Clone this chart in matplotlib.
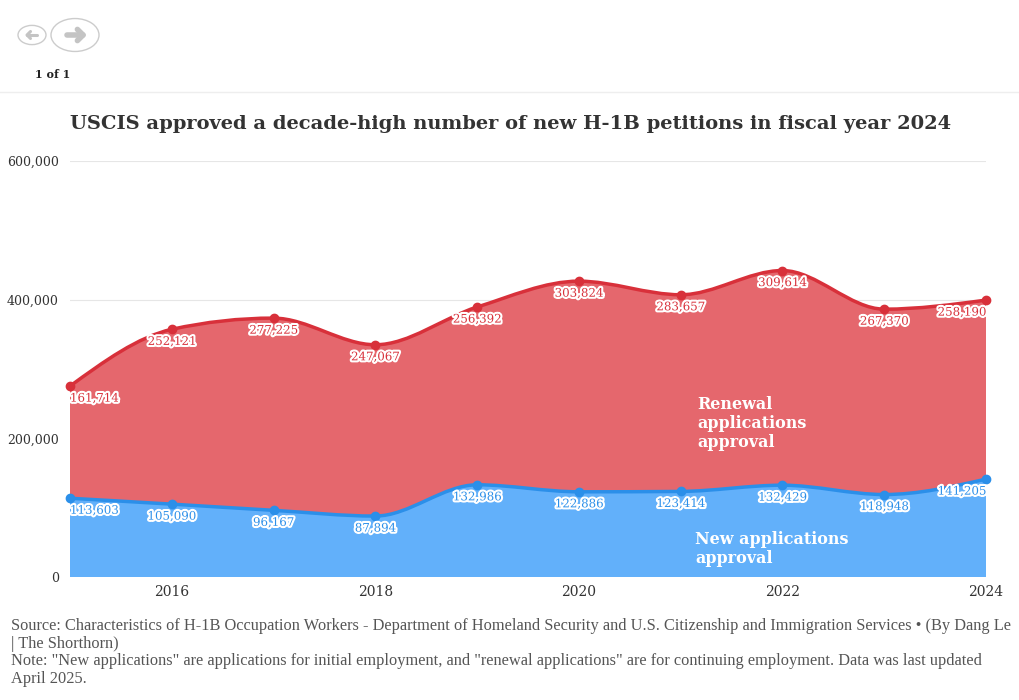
import numpy as np
import matplotlib
matplotlib.use("Agg")
import matplotlib.pyplot as plt
from matplotlib.path import Path
from matplotlib.patches import PathPatch, Circle
import matplotlib.patheffects as pe

years = [2015, 2016, 2017, 2018, 2019, 2020, 2021, 2022, 2023, 2024]
new_apps = [113603, 105090, 96167, 87894, 132986, 122886, 123414, 132429, 118948, 141205]
renewal_apps = [161714, 252121, 277225, 247067, 256392, 303824, 283657, 309614, 267370, 258190]
yticks = [0, 200000, 400000, 600000]
xticks = [2016, 2018, 2020, 2022, 2024]

title = "USCIS approved a decade-high number of new H-1B petitions in fiscal year 2024"
source = ("Source: Characteristics of H-1B Occupation Workers - Department of Homeland Security and U.S. Citizenship and Immigration Services \u2022 (By Dang Le\n"
          "| The Shorthorn)\n"
          "Note: \"New applications\" are applications for initial employment, and \"renewal applications\" are for continuing employment. Data was last updated\n"
          "April 2025.")

RED_FILL = "#e5676d"
RED_LINE = "#d8303a"
BLUE_FILL = "#62b0fa"
BLUE_LINE = "#2b8fe9"
SERIF = ["DejaVu Serif"]


def monotone_slopes(x, y):
    # same idea as d3.curveMonotoneX
    x = np.asarray(x, float)
    y = np.asarray(y, float)
    n = len(x)
    h = np.diff(x)
    s = np.diff(y) / h
    m = np.zeros(n)
    for i in range(1, n - 1):
        p = (s[i - 1] * h[i] + s[i] * h[i - 1]) / (h[i - 1] + h[i])
        m[i] = (np.sign(s[i - 1]) + np.sign(s[i])) * min(abs(s[i - 1]), abs(s[i]), 0.5 * abs(p))
    m[0] = (3 * s[0] - m[1]) / 2
    m[-1] = (3 * s[-1] - m[-2]) / 2
    return m


def curve_parts(x, y, reverse=False):
    x = np.asarray(x, float)
    y = np.asarray(y, float)
    m = monotone_slopes(x, y)
    segs = []
    for i in range(len(x) - 1):
        dx = (x[i + 1] - x[i]) / 3
        segs.append([(x[i], y[i]), (x[i] + dx, y[i] + m[i] * dx),
                     (x[i + 1] - dx, y[i + 1] - m[i + 1] * dx), (x[i + 1], y[i + 1])])
    if reverse:
        segs = [s[::-1] for s in segs[::-1]]
    verts = [segs[0][0]]
    for s in segs:
        verts += s[1:]
    return verts


def line_path(x, y):
    v = curve_parts(x, y)
    codes = [Path.MOVETO] + [Path.CURVE4] * (len(v) - 1)
    return Path(v, codes)


def band_path(x, ylow, yhigh):
    top = curve_parts(x, yhigh)
    if ylow is None:
        bottom = [(x[-1], 0), (x[0], 0)]
        bcodes = [Path.LINETO, Path.LINETO]
    else:
        bottom = curve_parts(x, ylow, reverse=True)
        bcodes = [Path.LINETO] + [Path.CURVE4] * (len(bottom) - 1)
    v = top + bottom + [top[0]]
    codes = [Path.MOVETO] + [Path.CURVE4] * (len(top) - 1) + bcodes + [Path.CLOSEPOLY]
    return Path(v, codes)


totals = [a + b for a, b in zip(new_apps, renewal_apps)]

fig = plt.figure(figsize=(10.2, 7), dpi=100)
ax = fig.add_axes([70 / 1020, 123 / 700, 916 / 1020, 416 / 700])

ax.add_patch(PathPatch(band_path(years, None, new_apps), facecolor=BLUE_FILL, edgecolor="none", zorder=2))
ax.add_patch(PathPatch(band_path(years, new_apps, totals), facecolor=RED_FILL, edgecolor="none", zorder=2))
ax.add_patch(PathPatch(line_path(years, new_apps), facecolor="none", edgecolor=BLUE_LINE, lw=2.5, zorder=3))
ax.add_patch(PathPatch(line_path(years, totals), facecolor="none", edgecolor=RED_LINE, lw=2.5, zorder=3))
ax.plot(years, new_apps, "o", color=BLUE_LINE, ms=6, zorder=4, clip_on=False)
ax.plot(years, totals, "o", color=RED_LINE, ms=6, zorder=4, clip_on=False)

halo = [pe.withStroke(linewidth=3, foreground="white")]
for i, yr in enumerate(years):
    ha = "left" if i == 0 else ("right" if i == len(years) - 1 else "center")
    ax.annotate(f"{renewal_apps[i]:,}", (yr, totals[i]), xytext=(0, -4), textcoords="offset points",
                ha=ha, va="top", fontsize=8.5, color=RED_LINE, family=SERIF, path_effects=halo, zorder=5)
    ax.annotate(f"{new_apps[i]:,}", (yr, new_apps[i]), xytext=(0, -4), textcoords="offset points",
                ha=ha, va="top", fontsize=8.5, color=BLUE_LINE, family=SERIF, path_effects=halo, zorder=5)

ax.text(2021.16, 182000, "Renewal\napplications\napproval", color="white", fontsize=11.5,
        fontweight="bold", family=SERIF, va="bottom", linespacing=1.15, zorder=5)
ax.text(2021.14, 15000, "New applications\napproval", color="white", fontsize=11.5,
        fontweight="bold", family=SERIF, va="bottom", linespacing=1.15, zorder=5)

ax.set_xlim(2015, 2024)
ax.set_ylim(0, 600000)
ax.set_yticks(yticks)
ax.set_yticklabels([f"{v:,}" for v in yticks], family=SERIF, fontsize=9, color="#333333")
ax.set_xticks(xticks)
ax.set_xticklabels([str(v) for v in xticks], family=SERIF, fontsize=10, color="#333333")
ax.tick_params(length=0, pad=6)
ax.tick_params(axis="y", pad=8)
ax.grid(axis="y", color="#e6e6e6", lw=0.8, zorder=0)
ax.set_axisbelow(True)
for sp in ax.spines.values():
    sp.set_visible(False)

fig.text(70 / 1020, 1 - 124 / 700, title, fontsize=14, fontweight="bold", family=SERIF,
         color="#333333", va="center")
fig.text(11 / 1020, 1 - 618 / 700, source, fontsize=11.8, family=["Liberation Serif"],
         color="#555555", va="top", linespacing=1.14)

# navigation widget at the top
fig.add_artist(Circle((32 / 1020, 1 - 35 / 700), 14 / 1020, transform=fig.transFigure,
                      facecolor="white", edgecolor="#cccccc", lw=1))
fig.add_artist(Circle((75 / 1020, 1 - 35 / 700), 24 / 1020, transform=fig.transFigure,
                      facecolor="white", edgecolor="#cccccc", lw=1))
for cx, half, lw in [(32, -5, 2.2), (75, 8, 4)]:
    y0 = 1 - 35 / 700
    x0 = (cx - half) / 1020
    x1 = (cx + half) / 1020
    hx = (cx + half - np.sign(half) * abs(half) * 0.7) / 1020
    hy = abs(half) * 0.7 / 700
    kw = dict(transform=fig.transFigure, color="#c4c4c4", lw=lw, solid_capstyle="round")
    fig.add_artist(plt.Line2D([x0, x1], [y0, y0], **kw))
    fig.add_artist(plt.Line2D([hx, x1, hx], [y0 + hy, y0, y0 - hy], solid_joinstyle="round", **kw))
fig.text(53 / 1020, 1 - 74 / 700, "1 of 1", ha="center", va="center", fontsize=8,
         fontweight="bold", family=SERIF, color="#222222")
fig.add_artist(plt.Line2D([0, 1], [1 - 92 / 700, 1 - 92 / 700], transform=fig.transFigure,
                          color="#eeeeee", lw=1))

fig.savefig("out.png", dpi=100, facecolor="white")
